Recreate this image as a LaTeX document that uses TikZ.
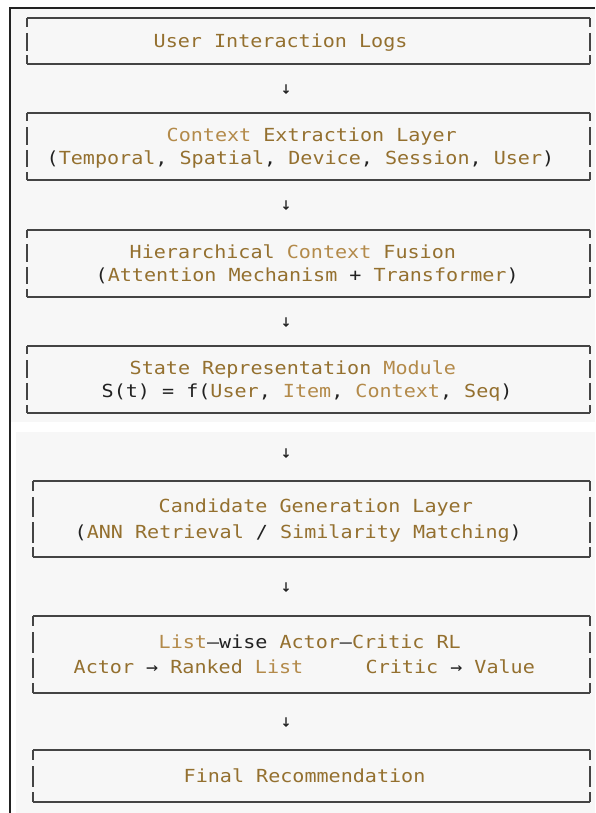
\documentclass[tikz,border=0pt]{standalone}
\usepackage{fontspec}
\usetikzlibrary{calc}
\newfontfamily\monofont[FakeStretch=1.115]{DejaVu Sans Mono}
\newfontfamily\arrowfont[FakeBold=0.5]{DejaVu Sans Mono}
\definecolor{brdark}{HTML}{94702F}
\definecolor{brlight}{HTML}{B38A4A}
\definecolor{inkc}{HTML}{222222}
\definecolor{framec}{HTML}{444444}
\definecolor{bgc}{HTML}{F7F7F7}
\newcommand\wdark[1]{\textcolor{brdark}{#1}}
\newcommand\wlight[1]{\textcolor{brlight}{#1}}
\def\gp{2.5}
% frame of an ascii box: node name, number of text rows, row height
\newcommand\asciiframe[3]{%
  \draw[asciiline] (#1.north west) -- (#1.north east);
  \draw[asciiline] (#1.south west) -- (#1.south east);
  \foreach \nn/\ss in {north west/south west,north east/south east}{
    \draw[asciiline] (#1.\nn) -- ++(0,#3/2-\gp);
    \draw[asciiline] (#1.\ss) -- ++(0,-#3/2+\gp);
    \foreach \k in {1,...,#2}{
      \draw[asciiline] ($(#1.\nn)+(0,\k*#3-#3/2+\gp+1)$) -- ++(0,#3-2*\gp);
    }
  }
}
\tikzset{
  asciiline/.style={draw=framec, line width=1.6pt},
  boxu/.style={inner sep=0pt, minimum width=563pt},
  boxl/.style={inner sep=0pt, minimum width=557pt},
  txt/.style={font=\monofont\fontsize{18}{21}\selectfont, text=inkc, inner sep=0pt,
              anchor=west, text height=13.1pt, text depth=0pt},
  arr/.style={font=\arrowfont\fontsize{17}{19}\selectfont, text=inkc, inner sep=0pt}
}
\begin{document}
\begin{tikzpicture}[x=1pt,y=-1pt]
\useasboundingbox (0,0) rectangle (595,813);
% screenshot background
\fill[white] (0,0) rectangle (595,813);
\fill[bgc] (11,8) rectangle (595,422);
\fill[bgc] (16,432) rectangle (595,813);
\draw[inkc, line width=1.5pt] (10,813) -- (10,8) -- (595,8);

% boxes
\node[boxu, minimum height=46pt] (b1) at (308.5,41) {};
\node[boxu, minimum height=67pt] (b2) at (308.5,146.5) {};
\node[boxu, minimum height=67pt] (b3) at (308.5,263.5) {};
\node[boxu, minimum height=67pt] (b4) at (308.5,379.5) {};
\node[boxl, minimum height=76pt] (b5) at (311.5,519) {};
\node[boxl, minimum height=77pt] (b6) at (311.5,654.5) {};
\node[boxl, minimum height=52pt] (b7) at (311.5,776) {};
\asciiframe{b1}{1}{23}
\asciiframe{b2}{2}{22.33}
\asciiframe{b3}{2}{22.33}
\asciiframe{b4}{2}{22.33}
\asciiframe{b5}{2}{25.33}
\asciiframe{b6}{2}{25.67}
\asciiframe{b7}{1}{26}

% texts
\node[txt] (t1) at (153.5,41) {\wdark{User Interaction Logs}};
\node[txt] (t2a) at (166.5,135.3) {\wlight{Context} \wdark{Extraction Layer}};
\node[txt] (t2b) at (46.5,157.7) {(\wdark{Temporal}, \wdark{Spatial}, \wdark{Device}, \wdark{Session}, \wdark{User})};
\node[txt] (t3a) at (129.5,252.3) {\wdark{Hierarchical} \wlight{Context} \wdark{Fusion}};
\node[txt] (t3b) at (95.5,274.7) {(\wdark{Attention Mechanism} + \wdark{Transformer})};
\node[txt] (t4a) at (129.5,368.3) {\wdark{State Representation} \wlight{Module}};
\node[txt] (t4b) at (101.5,390.7) {S(t) = f(\wdark{User}, \wlight{Item}, \wlight{Context}, \wdark{Seq})};
\node[txt] (t5a) at (158.5,506.3) {\wdark{Candidate Generation Layer}};
\node[txt] (t5b) at (74.5,531.7) {(\wdark{ANN Retrieval} / \wdark{Similarity Matching})};
\node[txt] (t6a) at (158.5,641.7) {\wlight{List}—wise \wdark{Actor}—\wdark{Critic RL}};
\node[txt] (t6b) at (73.5,667.3) {\wdark{Actor} → \wdark{Ranked} \wlight{List}};
\node[txt] (t6c) at (365.5,667.3) {\wdark{Critic} → \wdark{Value}};
\node[txt] (t7) at (183.5,776) {\wdark{Final Recommendation}};

% arrows between layers
\node[arr] (a1) at (286,89) {↓};
\node[arr] (a2) at (286,205) {↓};
\node[arr] (a3) at (286,322) {↓};
\node[arr] (a4) at (286,453) {↓};
\node[arr] (a5) at (286,587) {↓};
\node[arr] (a6) at (286,722) {↓};
\end{tikzpicture}
\end{document}
